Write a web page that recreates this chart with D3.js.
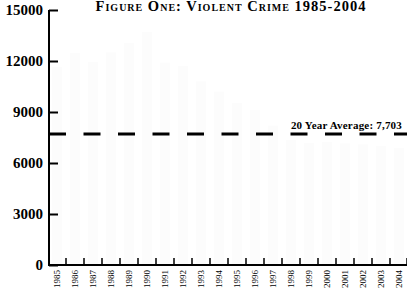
<!DOCTYPE html>
<html>
<head>
<meta charset="utf-8">
<script src="https://cdn.jsdelivr.net/npm/d3@7"></script>
<style>
html,body{margin:0;padding:0;background:#fff;}
svg{display:block;}
text{font-family:"Liberation Serif","DejaVu Serif",serif;fill:#000;}
</style>
</head>
<body>
<svg id="c" width="407" height="289"></svg>
<script>
const years = ["1985","1986","1987","1988","1989","1990","1991","1992","1993","1994","1995","1996","1997","1998","1999","2000","2001","2002","2003","2004"];
const crimes = [11650,12470,11940,12500,13060,13700,11900,11700,10800,10200,9530,9120,8200,7350,7180,7240,7150,7100,7000,6880];
const yTicks = [0,3000,6000,9000,12000,15000];
const average = 7703;
const titleText = "Figure One: Violent Crime 1985-2004";
const avgLabel = "20 Year Average: 7,703";

(function () {
const svg = d3.select("#c");
const mLeft = 49, mRight = 408, mTop = 10, mBottom = 265;

const x = d3.scaleBand().domain(years).range([mLeft - 1, mRight]).padding(0);
const y = d3.scaleLinear().domain([0, 15000]).range([mBottom, mTop]);

// faint bars (washed out in reference)
svg.append("g").selectAll("rect").data(years).join("rect")
  .attr("x", d => x(d) + 4)
  .attr("width", x.bandwidth() - 8)
  .attr("y", (d, i) => y(crimes[i]))
  .attr("height", (d, i) => mBottom - y(crimes[i]))
  .attr("fill", "#fcfcfc");

// title
svg.append("text")
  .attr("x", 231).attr("y", 11)
  .attr("text-anchor", "middle")
  .style("font-size", "14.5px")
  .style("font-weight", "bold")
  .style("font-variant", "small-caps")
  .style("letter-spacing", "1px")
  .text(titleText);

// y axis
const yAxis = d3.axisLeft(y).tickValues(yTicks).tickSize(-9).tickPadding(6).tickFormat(d3.format("d"));
const gy = svg.append("g").attr("transform", `translate(${mLeft},0)`).call(yAxis);
gy.select(".domain").attr("stroke", "#000").attr("stroke-width", 2).attr("d", `M0,${mTop}V${mBottom}`);
gy.selectAll(".tick line").attr("stroke", "#000").attr("stroke-width", 2);
gy.selectAll(".tick text")
  .style("font-family", "'Liberation Serif',serif")
  .style("font-size", "15px").style("font-weight", "bold").attr("fill", "#000")
  .attr("x", -6);

// x axis
const boundaries = years.slice(1).map(d => x(d)).concat([x(years[years.length-1]) + x.bandwidth() - 1]);
const gx = svg.append("g");
gx.append("line").attr("x1", mLeft - 1).attr("x2", mRight).attr("y1", mBottom).attr("y2", mBottom)
  .attr("stroke", "#000").attr("stroke-width", 2);
gx.selectAll("line.tk").data(boundaries).join("line").attr("class", "tk")
  .attr("x1", d => d).attr("x2", d => d).attr("y1", mBottom).attr("y2", mBottom - 7)
  .attr("stroke", "#000").attr("stroke-width", 1.5);
gx.selectAll("text").data(years).join("text")
  .attr("transform", d => `translate(${x(d) + x.bandwidth()/2 + 3},${mBottom + 5}) rotate(-90)`)
  .attr("text-anchor", "end")
  .style("font-size", "9px")
  .text(d => d);

// average line
svg.append("line")
  .attr("x1", mLeft).attr("x2", mRight).attr("y1", y(average)).attr("y2", y(average))
  .attr("stroke", "#000").attr("stroke-width", 3)
  .attr("stroke-dasharray", "17,17.5");
svg.append("text")
  .attr("x", 402).attr("y", y(average) - 5)
  .attr("text-anchor", "end")
  .style("font-size", "11px").style("font-weight", "bold")
  .style("letter-spacing", "0.2px")
  .text(avgLabel);
})();
</script>
</body>
</html>
